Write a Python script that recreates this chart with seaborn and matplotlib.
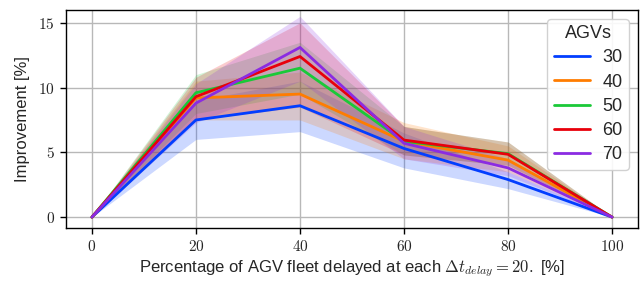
import matplotlib
matplotlib.use("Agg")
import matplotlib.pyplot as plt
import matplotlib.ticker as mticker
import numpy as np
import pandas as pd
import seaborn as sns

# ----------------------------------------------------------------------------
# Data
# ----------------------------------------------------------------------------
delayed_pct = [0, 20, 40, 60, 80, 100]
agv_counts = [30, 40, 50, 60, 70]

mean_30 = [0, 7.5, 8.6, 5.3, 2.9, 0]
mean_40 = [0, 9.2, 9.5, 5.85, 4.4, 0]
mean_50 = [0, 9.6, 11.5, 5.85, 4.9, 0]
mean_60 = [0, 9.3, 12.4, 5.95, 4.85, 0]
mean_70 = [0, 8.8, 13.1, 5.7, 3.8, 0]

low_30 = [0, 6.0, 6.6, 3.8, 2.2, 0]
high_30 = [0, 9.0, 10.5, 6.5, 3.5, 0]
low_40 = [0, 7.5, 7.5, 4.5, 3.5, 0]
high_40 = [0, 10.5, 11.2, 7.3, 5.5, 0]
low_50 = [0, 8.0, 9.5, 4.8, 4.0, 0]
high_50 = [0, 11.0, 13.5, 7.0, 5.8, 0]
low_60 = [0, 7.5, 8.5, 4.8, 4.0, 0]
high_60 = [0, 10.8, 15.0, 7.0, 5.8, 0]
low_70 = [0, 7.3, 10.5, 4.5, 3.2, 0]
high_70 = [0, 10.3, 15.5, 7.0, 4.5, 0]

means = [mean_30, mean_40, mean_50, mean_60, mean_70]
lows = [low_30, low_40, low_50, low_60, low_70]
highs = [high_30, high_40, high_50, high_60, high_70]

rows = []
for n, m, lo, hi in zip(agv_counts, means, lows, highs):
    for x, v, a, b in zip(delayed_pct, m, lo, hi):
        rows.append({"pct": x, "AGVs": n, "imp": v, "lo": a, "hi": b})
df = pd.DataFrame(rows)

# ----------------------------------------------------------------------------
# Plot
# ----------------------------------------------------------------------------
sns.set_theme(style="whitegrid")
plt.rcParams["font.family"] = ["Liberation Sans", "DejaVu Sans"]
plt.rcParams["mathtext.fontset"] = "cm"

palette = sns.color_palette("bright", len(agv_counts))

fig = plt.figure(figsize=(6.4, 2.82), dpi=100)
ax = fig.add_axes([0.103, 0.191, 0.894, 0.774])

for n, col in zip(agv_counts, palette):
    sub = df[df["AGVs"] == n]
    ax.fill_between(sub["pct"], sub["lo"], sub["hi"], color=col, alpha=0.2,
                    linewidth=0)

sns.lineplot(data=df, x="pct", y="imp", hue="AGVs", palette=palette,
             linewidth=2.0, ax=ax)

ax.set_xlim(-5, 105)
ax.set_ylim(-0.85, 16)
ax.set_xticks(delayed_pct)
ax.set_yticks([0, 5, 10, 15])
fmt = mticker.FuncFormatter(lambda v, p: f"${v:g}$")
ax.xaxis.set_major_formatter(fmt)
ax.yaxis.set_major_formatter(fmt)
ax.tick_params(axis="both", which="major", labelsize=11, length=4,
               width=1, color="black", bottom=True, left=True, pad=4)

ax.grid(True, color="#b8b8b8", linewidth=1.0)
for s in ax.spines.values():
    s.set_color("black")
    s.set_linewidth(1.0)

ax.set_xlabel(r"Percentage of AGV fleet delayed at each $\Delta t_{delay} = 20.$ [%]",
              fontsize=12, labelpad=3)
ax.set_ylabel("Improvement [%]", fontsize=12, labelpad=6)

leg = ax.legend(title="AGVs", loc="upper right", fontsize=13,
                title_fontsize=13, frameon=True, framealpha=0.9,
                handlelength=2.0, labelspacing=0.4, borderpad=0.35,
                borderaxespad=0.5, handletextpad=0.7)
leg.get_frame().set_edgecolor("#cccccc")

fig.savefig("out.png", dpi=100)
